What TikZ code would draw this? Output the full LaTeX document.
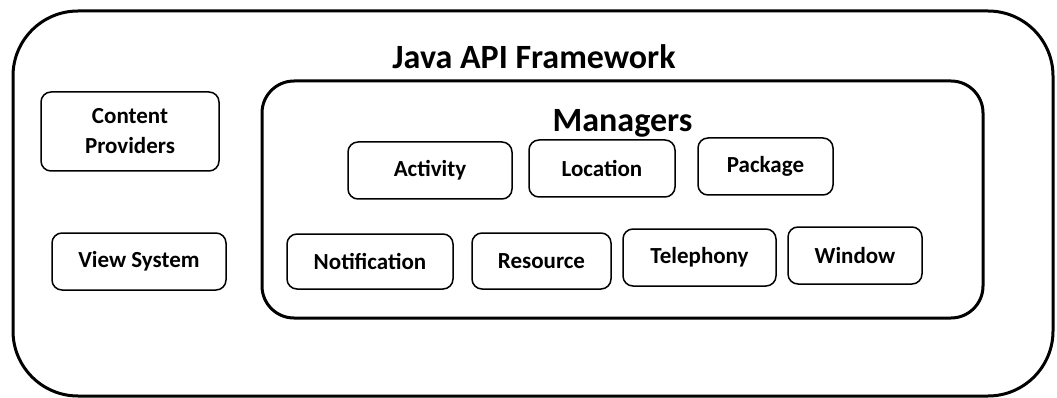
\documentclass[tikz,border=0pt]{standalone}
\usepackage{fontspec}
\setmainfont{Carlito}
\begin{document}
\begin{tikzpicture}[x=1pt,y=-1pt,
  frame/.style={draw, line width=3pt, inner sep=0pt},
  item/.style={draw, line width=1.5pt, rounded corners=10pt, inner sep=0pt,
    align=center, font=\fontsize{23}{30}\selectfont\bfseries},
  heading/.style={inner sep=0pt, anchor=base, font=\fontsize{34}{40}\selectfont\bfseries}]
\useasboundingbox (0,0) rectangle (1057,398);
\node[frame, rounded corners=65pt, minimum width=1040pt, minimum height=385pt] (outer) at (533,203.5) {};
\node[frame, rounded corners=32pt, minimum width=721pt, minimum height=237pt] (managers) at (622.5,199.5) {};
\node[heading] (title) at (534,69) {Java API Framework};
\node[heading] (mtitle) at (622.5,132) {Managers};
\node[item, minimum width=178pt, minimum height=79pt] (content) at (130,131.5) {Content\\Providers};
\node[item, minimum width=174pt, minimum height=57pt] (view) at (139,261.5) {View System};
\node[item, minimum width=164pt, minimum height=57pt] (activity) at (430,170.5) {Activity};
\node[item, minimum width=146pt, minimum height=57pt] (location) at (602,168.5) {Location};
\node[item, minimum width=135pt, minimum height=57pt] (package) at (765.5,166.5) {Package};
\node[item, minimum width=166pt, minimum height=55pt] (notification) at (370,261.5) {Notification};
\node[item, minimum width=139pt, minimum height=56pt] (resource) at (541.5,261) {Resource};
\node[item, minimum width=153pt, minimum height=57pt] (telephony) at (699.5,257.5) {Telephony};
\node[item, minimum width=134pt, minimum height=57pt] (window) at (855,255.5) {Window};
\end{tikzpicture}
\end{document}
